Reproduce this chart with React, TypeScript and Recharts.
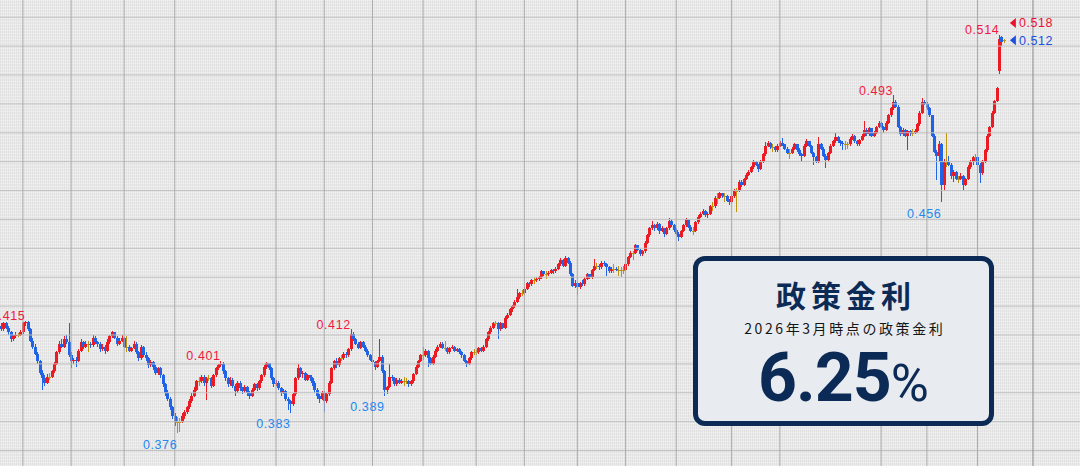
import { Bar, ComposedChart, ReferenceDot, ReferenceLine, XAxis, YAxis } from "recharts"

// daily candles, price x10000, [open, high, low, close]
const legA = [
  [4130,4140,4115,4120],[4120,4145,4115,4140],[4140,4145,4120,4125],[4125,4130,4100,4110],[4110,4115,4075,4085],
  [4085,4100,4080,4095],[4095,4110,4090,4100],[4100,4108,4092,4100],[4100,4118,4095,4110],[4110,4145,4105,4140],
  [4140,4150,4130,4145],[4145,4148,4115,4120],[4120,4125,4075,4080],[4080,4090,4050,4060],[4060,4070,4030,4035],
  [4035,4040,4000,4010],[4010,4015,3960,3970],[3970,3980,3910,3950],[3950,3960,3925,3935],[3935,3965,3930,3955],
  [3955,3970,3945,3955],[3955,3980,3950,3975],[3975,4005,3970,4000],[4000,4045,3995,4040],[4040,4080,4035,4070],
  [4070,4085,4055,4060],[4060,4095,4055,4085],[4085,4100,4070,4075],[4075,4140,4025,4030],[4030,4040,3985,4010],
  [4010,4020,4000,4015],[4015,4025,3990,4010],[4010,4050,4005,4045],[4045,4085,4040,4075],[4075,4080,4050,4060],
  [4060,4078,4055,4070],[4070,4080,4040,4070],[4070,4075,4055,4065],[4065,4100,4060,4090],[4090,4095,4068,4075],
  [4075,4080,4060,4070],[4070,4075,4040,4050],[4050,4068,4045,4060],[4060,4065,4035,4045],[4045,4085,4040,4075],
  [4075,4100,4070,4095],[4095,4115,4090,4110],[4110,4112,4085,4090],[4090,4095,4062,4070],[4070,4088,4065,4080],
  [4080,4100,4075,4090],[4090,4094,4055,4060],[4060,4095,4040,4060],[4060,4065,4040,4045],[4045,4060,4040,4055],
  [4055,4080,4050,4070],[4070,4075,4035,4040],[4040,4045,4010,4020],[4020,4065,4015,4060],[4060,4062,4025,4030],
  [4030,4040,4010,4020],[4020,4025,3985,3995],[3995,4015,3990,4005],[4005,4010,3980,3990],[3990,3995,3960,3970],
  [3970,3990,3960,3985],[3985,3990,3950,3960],[3960,3965,3920,3930],[3930,3935,3890,3900],[3900,3910,3870,3880],
  [3880,3885,3840,3850],[3850,3855,3810,3820],[3820,3830,3785,3800],[3800,3815,3760,3800],[3800,3812,3765,3800],
  [3800,3830,3795,3820],[3820,3840,3810,3835],[3835,3855,3828,3850],[3850,3878,3845,3870],[3870,3900,3865,3890],
  [3890,3920,3885,3910],[3910,3945,3905,3940],[3940,3955,3925,3940],[3940,3962,3935,3955],[3955,3960,3925,3935],
  [3935,3955,3875,3950],[3950,3960,3940,3950],[3950,3955,3915,3925],[3925,3965,3920,3960],[3960,3990,3955,3985],
  [3985,4000,3980,3995],[3995,4010,3990,4000],[4000,4005,3965,3975],[3975,3980,3940,3950],[3950,3955,3920,3930],
  [3930,3955,3925,3945],[3945,3950,3915,3925],[3925,3930,3890,3905],[3905,3940,3900,3935],[3935,3940,3905,3915],
]

const legB = [
  [3915,3920,3895,3905],[3905,3928,3900,3920],[3920,3925,3890,3900],[3900,3905,3880,3890],[3890,3915,3885,3910],
  [3910,3935,3905,3930],[3930,3935,3905,3915],[3915,3945,3910,3940],[3940,3965,3935,3960],[3960,3995,3955,3990],
  [3990,4005,3982,4002],[4002,4004,3978,3985],[3985,3990,3945,3950],[3950,3955,3920,3930],[3930,3945,3925,3935],
  [3935,3940,3908,3915],[3915,3920,3890,3900],[3900,3912,3895,3905],[3905,3908,3870,3880],[3880,3885,3840,3870],
  [3870,3875,3830,3860],[3860,3900,3855,3895],[3895,3955,3890,3950],[3950,4000,3945,3985],[3985,3990,3955,3965],
  [3965,3975,3950,3970],[3970,3972,3940,3945],[3945,3965,3940,3960],[3960,3962,3940,3950],[3950,3955,3925,3935],
  [3935,3940,3900,3910],[3910,3915,3880,3890],[3890,3895,3865,3880],[3880,3905,3875,3900],[3900,3905,3835,3870],
  [3870,3900,3865,3895],[3895,3940,3890,3935],[3935,3990,3930,3985],[3985,4015,3980,4010],[4010,4020,3985,3995],
  [3995,4025,3990,4020],[4020,4030,4010,4020],[4020,4040,4015,4035],[4035,4040,4020,4030],[4030,4055,4025,4050],
  [4050,4120,4045,4105],[4105,4110,4080,4085],[4085,4090,4065,4070],[4070,4075,4050,4055],[4055,4080,4050,4075],
  [4075,4080,4055,4060],[4060,4065,4040,4045],[4045,4050,4025,4030],[4030,4035,4010,4015],[4015,4020,3995,4005],
  [4005,4010,3980,3990],[3990,4015,3985,4010],[4010,4085,4005,4025],[4025,4030,3970,3975],[3975,3980,3890,3910],
  [3910,3925,3895,3920],[3920,4000,3915,3955],[3955,3960,3940,3950],[3950,3955,3925,3930],[3930,3950,3925,3945],
  [3945,3950,3930,3935],[3935,3948,3930,3940],[3940,3955,3925,3940],[3940,3950,3930,3940],[3940,3945,3920,3930],
  [3930,3945,3925,3940],[3940,3970,3935,3965],[3965,3995,3960,3990],[3990,4015,3985,4010],[4010,4035,4005,4030],
  [4030,4060,4015,4030],[4030,4050,4025,4045],[4045,4048,3990,4020],[4020,4025,3995,4000],[4000,4030,3995,4025],
  [4025,4050,4020,4045],[4045,4065,4040,4060],[4060,4075,4055,4070],[4070,4075,4050,4055],[4055,4080,4045,4055],
  [4055,4060,4035,4040],[4040,4060,4035,4055],[4055,4065,4050,4060],[4060,4062,4040,4045],[4045,4055,4040,4050],
  [4050,4055,4035,4040],[4040,4045,4020,4030],[4030,4035,4005,4010],[4010,4015,3988,4000],[4000,4025,3995,4020],
  [4020,4045,4015,4040],[4040,4050,4030,4040],[4040,4048,4032,4040],[4040,4060,4035,4055],[4055,4058,4040,4045],
]

const legC = [
  [4045,4065,4040,4060],[4060,4090,4055,4085],[4085,4115,4080,4110],[4110,4130,4105,4125],[4125,4145,4120,4140],
  [4140,4150,4130,4140],[4140,4145,4085,4120],[4120,4145,4115,4140],[4140,4142,4120,4125],[4125,4165,4120,4160],
  [4160,4175,4155,4170],[4170,4195,4165,4190],[4190,4205,4180,4200],[4200,4220,4195,4215],[4215,4260,4210,4230],
  [4230,4250,4225,4245],[4245,4255,4235,4245],[4245,4265,4240,4260],[4260,4285,4255,4280],[4280,4282,4265,4275],
  [4275,4295,4270,4290],[4290,4300,4275,4290],[4290,4300,4285,4295],[4295,4305,4288,4300],[4300,4325,4295,4320],
  [4320,4322,4305,4310],[4310,4320,4295,4310],[4310,4320,4305,4315],[4315,4330,4310,4325],[4325,4328,4312,4320],
  [4320,4335,4315,4330],[4330,4350,4325,4345],[4345,4365,4340,4360],[4360,4362,4335,4340],[4340,4375,4335,4365],
  [4365,4370,4345,4350],[4350,4355,4305,4310],[4310,4315,4265,4270],[4270,4290,4262,4280],[4280,4285,4240,4265],
  [4265,4285,4260,4280],[4280,4290,4270,4275],[4275,4300,4270,4295],[4295,4315,4290,4310],[4310,4312,4295,4300],
  [4300,4330,4295,4325],[4325,4362,4320,4340],[4340,4350,4330,4340],[4340,4345,4325,4335],[4335,4355,4330,4350],
  [4350,4355,4340,4345],[4345,4350,4305,4335],[4335,4338,4315,4320],[4320,4335,4315,4330],[4330,4345,4315,4330],
  [4330,4334,4320,4325],[4325,4340,4305,4325],[4325,4335,4300,4325],[4325,4338,4312,4325],[4325,4350,4320,4345],
  [4345,4375,4340,4370],[4370,4390,4365,4385],[4385,4392,4360,4385],[4385,4415,4380,4410],[4410,4412,4390,4395],
  [4395,4398,4375,4380],[4380,4395,4375,4390],[4390,4425,4385,4420],[4420,4450,4415,4445],[4445,4475,4440,4470],
  [4470,4495,4465,4480],[4480,4485,4460,4470],[4470,4490,4465,4485],[4485,4488,4450,4460],[4460,4478,4455,4470],
  [4470,4472,4440,4450],[4450,4475,4445,4470],[4470,4505,4465,4495],[4495,4500,4475,4480],[4480,4485,4455,4465],
  [4465,4470,4445,4450],[4450,4458,4425,4440],[4440,4465,4435,4460],[4460,4485,4455,4480],[4480,4505,4475,4500],
  [4500,4502,4470,4475],[4475,4480,4455,4460],[4460,4475,4445,4460],[4460,4495,4455,4490],[4490,4515,4485,4510],
  [4510,4525,4505,4520],[4520,4535,4515,4530],[4530,4532,4510,4515],[4515,4525,4505,4520],[4520,4550,4515,4545],
  [4545,4560,4530,4545],[4545,4580,4540,4575],[4575,4590,4555,4575],[4575,4595,4570,4590],[4590,4592,4575,4580],
]

const legD = [
  [4580,4590,4560,4580],[4580,4585,4560,4565],[4565,4570,4550,4560],[4560,4585,4555,4580],[4580,4605,4575,4600],
  [4600,4610,4525,4600],[4600,4635,4595,4630],[4630,4635,4612,4620],[4620,4645,4615,4640],[4640,4660,4635,4655],
  [4655,4670,4650,4665],[4665,4685,4660,4680],[4680,4705,4675,4700],[4700,4703,4685,4690],[4690,4693,4665,4675],
  [4675,4705,4670,4700],[4700,4730,4695,4725],[4725,4768,4720,4755],[4755,4770,4750,4765],[4765,4768,4745,4750],
  [4750,4760,4735,4750],[4750,4755,4735,4740],[4740,4760,4735,4755],[4755,4770,4750,4765],[4765,4782,4755,4760],
  [4760,4762,4740,4745],[4745,4750,4725,4730],[4730,4745,4710,4730],[4730,4750,4725,4745],[4745,4765,4740,4760],
  [4760,4762,4735,4740],[4740,4748,4720,4725],[4725,4730,4700,4720],[4720,4760,4715,4755],[4755,4778,4750,4770],
  [4770,4772,4750,4755],[4755,4758,4725,4730],[4730,4735,4690,4715],[4715,4720,4695,4700],[4700,4785,4695,4760],
  [4760,4765,4740,4745],[4745,4750,4715,4720],[4720,4725,4678,4705],[4705,4735,4700,4730],[4730,4760,4725,4755],
  [4755,4775,4750,4770],[4770,4800,4765,4785],[4785,4790,4765,4770],[4770,4775,4755,4765],[4765,4770,4740,4760],
  [4760,4770,4740,4760],[4760,4768,4745,4760],[4760,4785,4755,4780],[4780,4795,4775,4790],[4790,4792,4765,4770],
  [4770,4775,4755,4760],[4760,4780,4755,4775],[4775,4795,4770,4790],[4790,4840,4785,4810],[4810,4815,4790,4795],
  [4795,4820,4790,4815],[4815,4818,4785,4790],[4790,4805,4785,4800],[4800,4825,4795,4820],[4820,4840,4815,4835],
  [4835,4838,4815,4820],[4820,4825,4800,4810],[4810,4840,4805,4835],[4835,4865,4830,4860],[4860,4890,4855,4885],
  [4885,4930,4880,4905],[4905,4915,4885,4890],[4890,4895,4815,4820],[4820,4825,4790,4795],[4795,4815,4790,4810],
  [4810,4812,4785,4790],[4790,4810,4740,4805],[4805,4810,4790,4800],[4800,4812,4790,4800],[4800,4812,4795,4805],
  [4805,4835,4800,4830],[4830,4875,4825,4870],[4870,4920,4865,4905],[4905,4915,4895,4900],[4900,4905,4880,4885],
  [4885,4890,4855,4860],[4860,4862,4785,4790],[4790,4795,4730,4735],[4735,4740,4635,4720],[4720,4770,4700,4760],
  [4760,4765,4560,4620],[4620,4710,4600,4700],[4700,4800,4680,4700],[4700,4720,4685,4690],[4690,4695,4640,4650],
  [4650,4670,4630,4665],[4665,4668,4635,4640],[4640,4650,4625,4640],[4640,4660,4635,4650],[4650,4655,4600,4620],
  [4620,4645,4615,4640],[4640,4690,4635,4680],[4680,4705,4675,4700],[4700,4720,4690,4715],[4715,4725,4700,4715],
  [4715,4718,4685,4690],[4690,4695,4625,4660],[4660,4705,4655,4700],[4700,4745,4695,4740],[4740,4795,4735,4790],
  [4790,4825,4785,4820],[4820,4875,4815,4870],[4870,4915,4865,4910],[4910,4960,4905,4955],[5015,5140,5005,5125],
  [5130,5135,5100,5115],[5120,5124,5110,5120],
]

const candles = [...legA, ...legB, ...legC, ...legD]
const SLOTS = 448 // empty room on the right for the quote markers

// month separators (candle index) and price grid
const monthLines = [9, 29, 51, 72, 114, 134, 154, 175, 197, 217, 239, 259, 280, 303, 323, 365, 384, 405]
const yearLine = 428
const priceTicks = [0.37, 0.38, 0.39, 0.4, 0.41, 0.42, 0.43, 0.44, 0.45, 0.46, 0.47, 0.48, 0.49, 0.5, 0.51, 0.52]

const highMarks = [
  { i: 10, v: 0.415 },
  { i: 91, v: 0.401 },
  { i: 145, v: 0.412 },
  { i: 370, v: 0.493 },
  { i: 414, v: 0.514 },
]
const lowMarks = [
  { i: 73, v: 0.376 },
  { i: 120, v: 0.383 },
  { i: 159, v: 0.389 },
  { i: 390, v: 0.456 },
]
const quotes = [
  { v: 0.518, color: "#ec1030" },
  { v: 0.512, color: "#1d4fe0" },
]

const RED = "#ec1a22"
const BLUE = "#1f63e6"
const GOLD = "#bf920e"
const NAVY = "#0b2a55"

const table = Array.from({ length: SLOTS }, (_, i) => {
  const k = candles[i]
  if (!k) return { i }
  const [o, h, l, c] = k.map((v) => v / 10000)
  return { i, o, h, l, c, range: [l, h] }
})

function Candle(props: any) {
  const { x, y, width, height, payload } = props
  if (!payload || payload.o == null) return null
  const { o, h, l, c } = payload
  const top = Math.min(y, y + height)
  const span = Math.abs(height)
  const py = (v: number) => (h === l ? top : top + ((h - v) / (h - l)) * span)
  const cx = Math.round(x + width / 2)
  const color = c > o ? RED : c < o ? BLUE : GOLD
  const bTop = py(Math.max(o, c))
  const bBot = py(Math.min(o, c))
  return (
    <g shapeRendering="crispEdges">
      <rect x={cx} y={top} width={1} height={Math.max(span, 1)} fill={color} />
      {c === o ? (
        <rect x={cx - 1} y={Math.round(bTop)} width={3} height={1} fill={color} />
      ) : (
        <rect x={cx - 1} y={bTop} width={3} height={Math.max(bBot - bTop, 1)} fill={color} />
      )}
    </g>
  )
}

const labelFont = { fontFamily: "'Liberation Sans', Arial, sans-serif", fontSize: 12.5, letterSpacing: 0.6 }

export default function App() {
  return (
    <div
      style={{
        position: "absolute",
        left: 0,
        top: 0,
        width: 1080,
        height: 466,
        overflow: "hidden",
        backgroundColor: "#eaeaea",
        backgroundImage:
          "repeating-linear-gradient(90deg, rgba(0,0,0,0.04) 0 1px, transparent 1px 2px), repeating-linear-gradient(0deg, rgba(255,255,255,0.35) 0 1px, transparent 1px 3px)",
      }}
    >
      <ComposedChart width={1080} height={466} data={table} margin={{ top: 0, right: 0, bottom: 0, left: 0 }} barCategoryGap={0} barGap={0}>
        <XAxis dataKey="i" hide />
        <YAxis type="number" domain={[0.36465, 0.52595]} allowDataOverflow hide />
        {priceTicks.map((v) => (
          <ReferenceLine key={`y${v}`} y={v} stroke="#c0c0c0" strokeWidth={1} />
        ))}
        {monthLines.map((i) => (
          <ReferenceLine key={`x${i}`} x={i} stroke="#ababab" strokeWidth={1} />
        ))}
        <ReferenceLine x={yearLine} stroke="#8a8a8a" />
        <Bar dataKey="range" shape={Candle} isAnimationActive={false} />
        {highMarks.map((m) => (
          <ReferenceDot
            key={`h${m.i}`}
            x={m.i}
            y={m.v}
            r={0}
            shape={(p: any) => (
              <text x={p.cx} y={p.cy - 0.5} textAnchor="end" fill="#f2193d" style={labelFont}>
                {m.v.toFixed(3)}
              </text>
            )}
          />
        ))}
        {lowMarks.map((m) => (
          <ReferenceDot
            key={`l${m.i}`}
            x={m.i}
            y={m.v}
            r={0}
            shape={(p: any) => (
              <text x={p.cx} y={p.cy + 15.5} textAnchor="end" fill="#2189f0" style={labelFont}>
                {m.v.toFixed(3)}
              </text>
            )}
          />
        ))}
        {quotes.map((q) => (
          <ReferenceDot
            key={`q${q.v}`}
            x={418}
            y={q.v}
            r={0}
            shape={(p: any) => (
              <g>
                <polygon points={`${p.cx + 1},${p.cy} ${p.cx + 7},${p.cy - 5} ${p.cx + 7},${p.cy + 5}`} fill={q.color} />
                <text x={p.cx + 10} y={p.cy + 4.5} fill={q.color} style={labelFont}>
                  {q.v.toFixed(3)}
                </text>
              </g>
            )}
          />
        ))}
      </ComposedChart>

      <div
        style={{
          position: "absolute",
          left: 693,
          top: 256,
          width: 301,
          height: 170,
          boxSizing: "border-box",
          border: `5px solid ${NAVY}`,
          borderRadius: 12,
          background: "#e8ebf0",
          color: NAVY,
        }}
      >
        <div
          style={{
            position: "absolute",
            left: 0,
            right: 0,
            top: 18,
            textAlign: "center",
            fontFamily: "'Noto Sans CJK JP', sans-serif",
            fontWeight: 700,
            fontSize: 30,
            lineHeight: "30px",
            letterSpacing: 5,
            paddingLeft: 5,
          }}
        >
          政策金利
        </div>
        <div
          style={{
            position: "absolute",
            left: 0,
            right: 0,
            top: 60,
            textAlign: "center",
            fontFamily: "'Noto Sans CJK JP', sans-serif",
            fontSize: 14,
            lineHeight: "14px",
            letterSpacing: 2.6,
            paddingLeft: 2.6,
            color: "#151515",
          }}
        >
          2026年3月時点の政策金利
        </div>
        <div
          style={{
            position: "absolute",
            left: 0,
            right: 0,
            top: 83,
            textAlign: "center",
            fontFamily: "Roboto, sans-serif",
            fontWeight: 700,
            fontSize: 68,
            lineHeight: "68px",
            letterSpacing: -1,
          }}
        >
          6.25<span style={{ fontWeight: 400, fontSize: 52, letterSpacing: 0 }}>%</span>
        </div>
      </div>
    </div>
  )
}
